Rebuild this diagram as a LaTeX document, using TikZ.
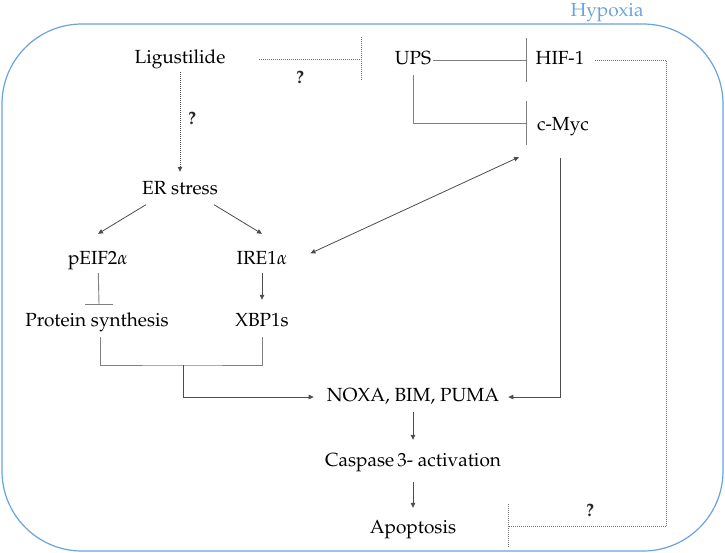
\documentclass[tikz,border=0pt]{standalone}
\usepackage[T1]{fontenc}
\usepackage{mathpazo}
\usetikzlibrary{arrows.meta}
\definecolor{hypoxiablue}{RGB}{105,163,222}
\begin{document}
\begin{tikzpicture}[x=1pt, y=-1pt,
    every node/.style={font=\fontsize{19}{22}\selectfont, inner sep=2pt, text height=13pt, text depth=4pt},
    >={Triangle[length=5pt,width=4.5pt]},
    link/.style={draw=black!50, line width=0.9pt},
    act/.style={draw=black!70, line width=0.8pt, ->},
    dots/.style={draw=black!55, line width=0.9pt, dash pattern=on 1pt off 1pt},
    qmark/.style={font=\fontsize{18}{20}\selectfont\bfseries, text=black!85}]
    \useasboundingbox (0,0) rectangle (725,552);

    % рамка
    \draw[hypoxiablue, line width=1.2pt, rounded corners=80pt] (2,24) rectangle (723,551);
    \node[text=hypoxiablue] (hyp) at (607,12) {Hypoxia};

    % вершины
    \node (lig) at (180,59) {Ligustilide};
    \node (ups) at (413,60) {UPS};
    \node (hif) at (560,60) {HIF-1};
    \node (cmyc) at (563,126) {c-Myc};
    \node (er) at (180,190) {ER stress};
    \node (peif) at (98,260) {pEIF2$\alpha$};
    \node (ire) at (262,260) {IRE1$\alpha$};
    \node (prot) at (97,322) {Protein synthesis};
    \node (xbp) at (262,322) {XBP1s};
    \node (noxa) at (413,397) {NOXA, BIM, PUMA};
    \node (casp) at (413,462) {Caspase\,3- activation};
    \node (apop) at (413,529) {Apoptosis};
    \node[qmark] (q1) at (300,79) {?};
    \node[qmark] (q2) at (192,120) {?};
    \node[qmark] (q3) at (590,512) {?};

    % точки
    \coordinate (b1) at (361,59);
    \coordinate (b2) at (526,60);
    \coordinate (b3) at (526,123);
    \coordinate (b4) at (508,526);
    \coordinate (b5) at (99,304);
    \coordinate (c1) at (666,526);
    \coordinate (j1) at (183,365);

    % рёбра
    \draw[dots, shorten <=31pt] (lig) -- (b1);
    \draw[dots] (b1) ++(0,-22) -- ++(0,44);
    \draw[link] (ups) -- (b2);
    \draw[link] (b2) ++(0,-22) -- ++(0,44);
    \draw[link, shorten <=4.5pt] (ups) |- (b3);
    \draw[link] (b3) ++(0,-22) -- ++(0,44);
    \draw[dots, shorten <=8pt] (hif.east) -| (c1) -- (b4);
    \draw[dots] (b4) ++(0,-22) -- ++(0,44);

    \draw[act, dash pattern=on 1pt off 1pt, shorten <=2.5pt, shorten >=7.5pt] (lig) -- (er);
    \draw[act] ([xshift=6pt,yshift=-4pt]er.south west) -- ([yshift=15.5pt]peif.north);
    \draw[act] ([xshift=-6pt,yshift=-4pt]er.south east) -- ([yshift=15.5pt]ire.north);
    \draw[link, shorten <=2.5pt] (peif) -- (b5);
    \draw[link] (b5) ++(-14,0) -- ++(28,0);
    \draw[act, shorten <=2.5pt, shorten >=11.5pt] (ire) -- (xbp);
    \draw[act, <->, shorten <=23pt, shorten >=17.5pt] ([yshift=-3pt]ire.east) -- ([yshift=-13pt]cmyc.south west);

    \draw[link, shorten <=4.5pt, shorten >=4.5pt] ([xshift=3pt]prot.south) |- (j1) -| (xbp);
    \draw[act, shorten >=11pt] (j1) |- (noxa);
    \draw[act, shorten <=21.5pt, shorten >=7pt] ([xshift=-3pt]cmyc.south) |- (noxa);
    \draw[act, shorten <=4.5pt, shorten >=11.5pt] (noxa) -- (casp);
    \draw[act, shorten <=9.5pt, shorten >=10.5pt] (casp) -- (apop);
  \end{tikzpicture}
\end{document}
